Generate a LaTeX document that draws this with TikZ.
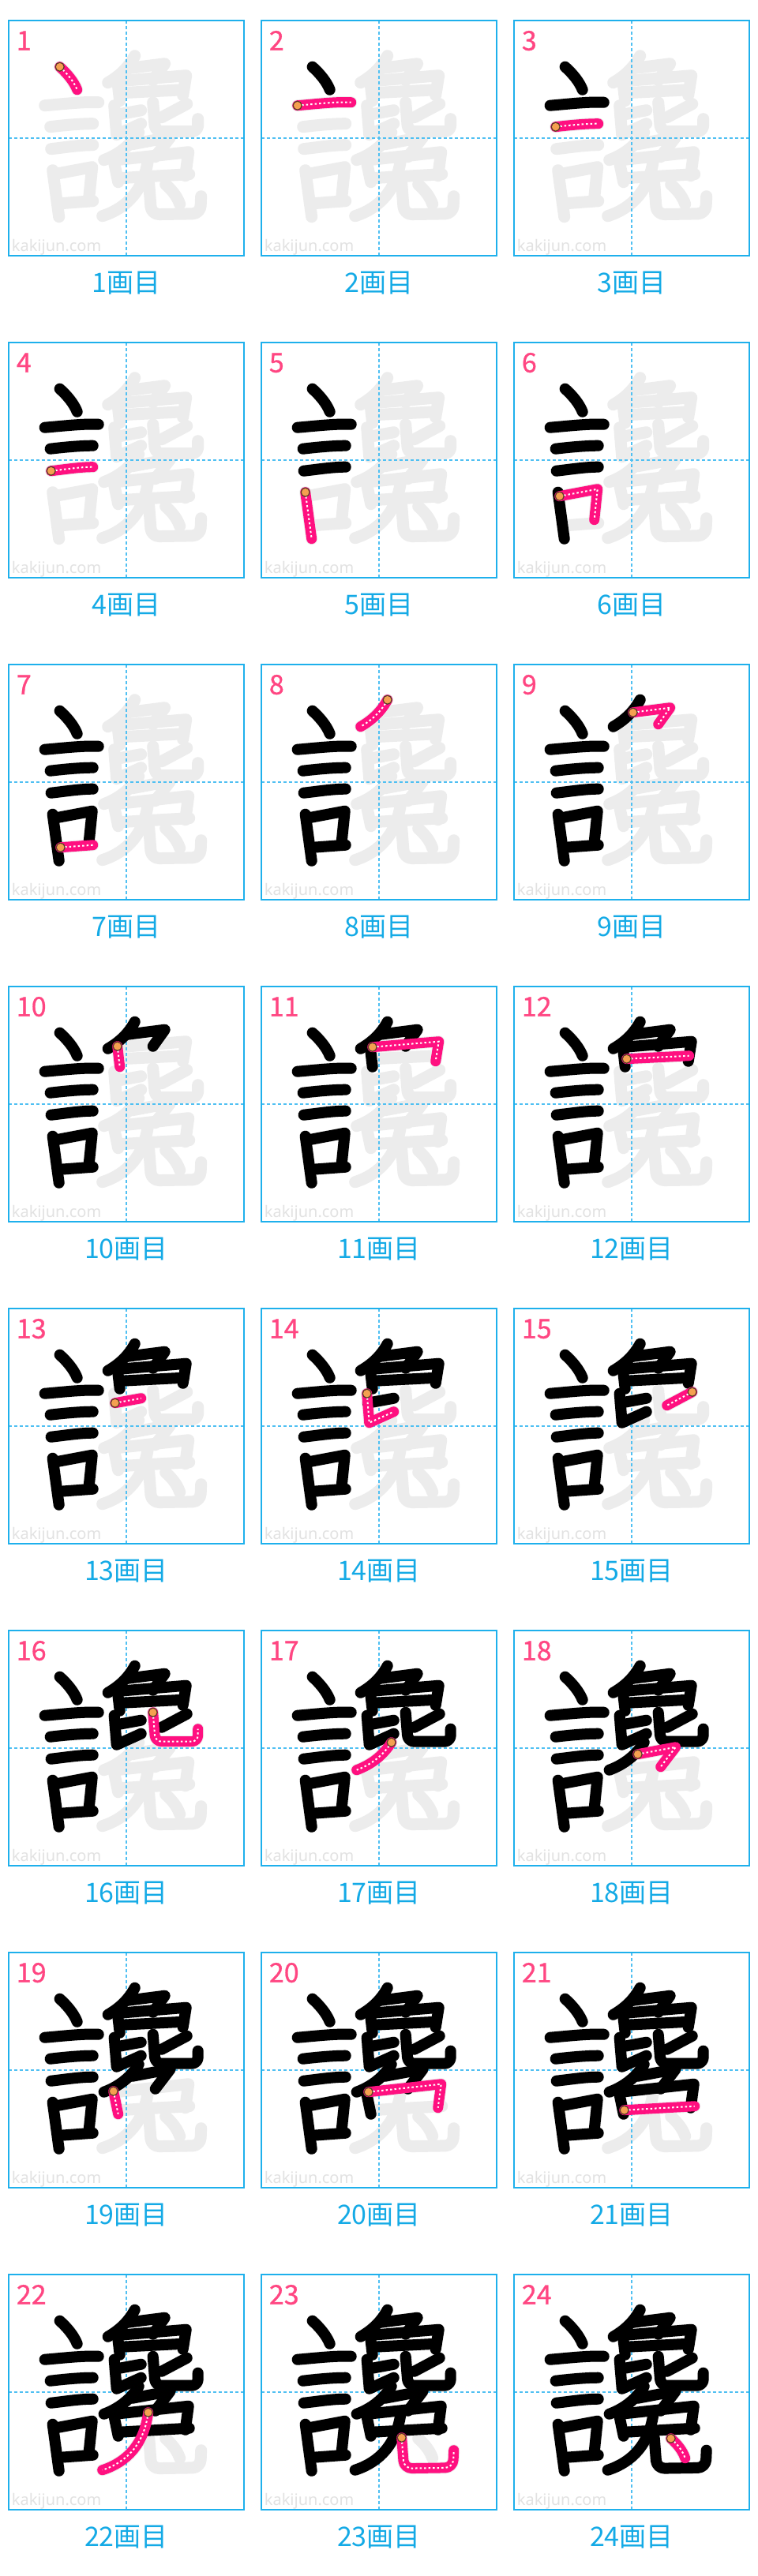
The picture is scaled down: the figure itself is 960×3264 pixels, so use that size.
\documentclass[tikz,border=0pt]{standalone}
\usepackage{fontspec}
\newfontfamily\jpfont{Noto Sans CJK JP}
\newfontfamily\numfont[FakeBold=0.8]{Noto Sans CJK JP}
\newfontfamily\wmfont{Noto Sans}
\definecolor{cellc}{RGB}{30,176,236}
\definecolor{gridc}{RGB}{80,192,242}
\definecolor{labc}{RGB}{20,170,230}
\definecolor{numc}{RGB}{255,70,130}
\definecolor{pinkc}{RGB}{255,16,128}
\definecolor{grayc}{RGB}{236,236,236}
\definecolor{wmc}{RGB}{226,226,226}
\definecolor{dotc}{RGB}{245,160,80}
\definecolor{dotedge}{RGB}{90,60,40}
\expandafter\def\csname ks1\endcsname{(65,59) .. controls (75,68) and (83,78) .. (87,88)}
\expandafter\def\csname ks2\endcsname{(46,108) .. controls (70,106) and (95,103) .. (114,104)}
\expandafter\def\csname ks3\endcsname{(53,135) .. controls (70,133) and (90,131) .. (107,131)}
\expandafter\def\csname ks4\endcsname{(54,163) .. controls (72,161) and (90,158) .. (107,158)}
\expandafter\def\csname ks5\endcsname{(56,190) -- (64,249)}
\expandafter\def\csname ks6\endcsname{(58,195) -- (106,186) -- (102,225)}
\expandafter\def\csname ks7\endcsname{(66,232) -- (107,229)}
\expandafter\def\csname ks8\endcsname{(160,45) .. controls (152,60) and (140,71) .. (126,79)}
\expandafter\def\csname ks9\endcsname{(151,61) -- (198,55) -- (183,76)}
\expandafter\def\csname ks10\endcsname{(138,76) -- (141,102)}
\expandafter\def\csname ks11\endcsname{(141,77) -- (225,70) -- (221,95)}
\expandafter\def\csname ks12\endcsname{(143,92) -- (222,88)}
\expandafter\def\csname ks13\endcsname{(135,120) -- (168,114)}
\expandafter\def\csname ks14\endcsname{(134,108) -- (137,145) -- (168,131)}
\expandafter\def\csname ks15\endcsname{(226,106) -- (194,123)}
\expandafter\def\csname ks16\endcsname{(183,104) [rounded corners=8pt] -- (186,141) -- (240,141) -- (240,125)}
\expandafter\def\csname ks17\endcsname{(165,142) .. controls (155,158) and (140,170) .. (121,177)}
\expandafter\def\csname ks18\endcsname{(157,157) -- (205,148) -- (186,173)}
\expandafter\def\csname ks19\endcsname{(133,176) -- (139,205)}
\expandafter\def\csname ks20\endcsname{(136,177) -- (228,167) -- (224,197)}
\expandafter\def\csname ks21\endcsname{(140,200) -- (229,195)}
\expandafter\def\csname ks22\endcsname{(177,175) .. controls (172,215) and (150,238) .. (119,248)}
\expandafter\def\csname ks23\endcsname{(178,207) [rounded corners=10pt] -- (181,246) -- (243,245) -- (244,223)}
\expandafter\def\csname ks24\endcsname{(199,208) .. controls (208,216) and (214,224) .. (217,233)}
\newcommand\kpath[2]{\expandafter\kpathaux\csname ks#2\endcsname{#1}}
\def\kpathaux#1#2{\draw[#2] #1;}
\tikzset{
  kgray/.style={draw=grayc, line width=15pt, line cap=round, line join=round},
  kblack/.style={draw=black, line width=14pt, line cap=round, line join=round},
  kpink/.style={draw=pinkc, line width=13pt, line cap=round, line join=round},
  kdash/.style={draw=white, line width=2pt, dash pattern=on 2.5pt off 3pt},
  cellbox/.style={draw=cellc, line width=1.6pt},
  gridline/.style={draw=gridc, line width=1.5pt, dash pattern=on 4pt off 3pt},
  numlab/.style={anchor=base west, inner sep=0pt, text=numc, font=\numfont\fontsize{34}{34}\selectfont},
  steplab/.style={anchor=base, inner sep=0pt, text=labc, font=\jpfont\fontsize{34}{34}\selectfont},
  wmark/.style={anchor=base west, inner sep=0pt, text=wmc, font=\wmfont\fontsize{20}{20}\selectfont},
  startdot/.style={circle, fill=dotc, draw=dotedge, line width=1.2pt, minimum size=11pt, inner sep=0pt}
}
\begin{document}
\begin{tikzpicture}[x=1pt,y=-1pt]
\useasboundingbox[fill=white] (0,0) rectangle (960,3264);
\foreach \n/\sx/\sy in {1/65/59,2/46/108,3/53/135,4/54/163,5/56/190,6/58/195,7/66/232,8/160/45,9/151/61,10/138/76,11/141/77,12/143/92,13/135/120,14/134/108,15/226/106,16/183/104,17/165/142,18/157/157,19/133/176,20/136/177,21/140/200,22/177/175,23/178/207,24/199/208}{
  \pgfmathtruncatemacro\mycol{mod(\n-1,3)}
  \pgfmathtruncatemacro\myrow{div(\n-1,3)}
  \pgfmathsetmacro\cx{10.7+320*\mycol}
  \pgfmathsetmacro\cy{25.7+408*\myrow}
  \begin{scope}[shift={(\cx,\cy)}]
    \node[wmark] (wm\n) at (4,293) {kakijun.com};
    \foreach \j in {1,...,24}{\kpath{kgray}{\j}}
    \draw[gridline] (149.2,0) -- (149.2,298.5);
    \draw[gridline] (0,149.2) -- (298.5,149.2);
    \draw[cellbox] (0,0) rectangle (298.5,298.5);
    \ifnum\n>1
      \foreach \j in {2,...,\n}{\pgfmathtruncatemacro\k{\j-1}\kpath{kblack}{\k}}
    \fi
    \kpath{kpink}{\n}
    \kpath{kdash}{\n}
    \node[startdot] (dot\n) at (\sx,\sy) {};
    \node[numlab] (num\n) at (10,38) {\n};
    \node[steplab] (lab\n) at (149.2,345) {{\n}画目};
  \end{scope}
}
\end{tikzpicture}
\end{document}
